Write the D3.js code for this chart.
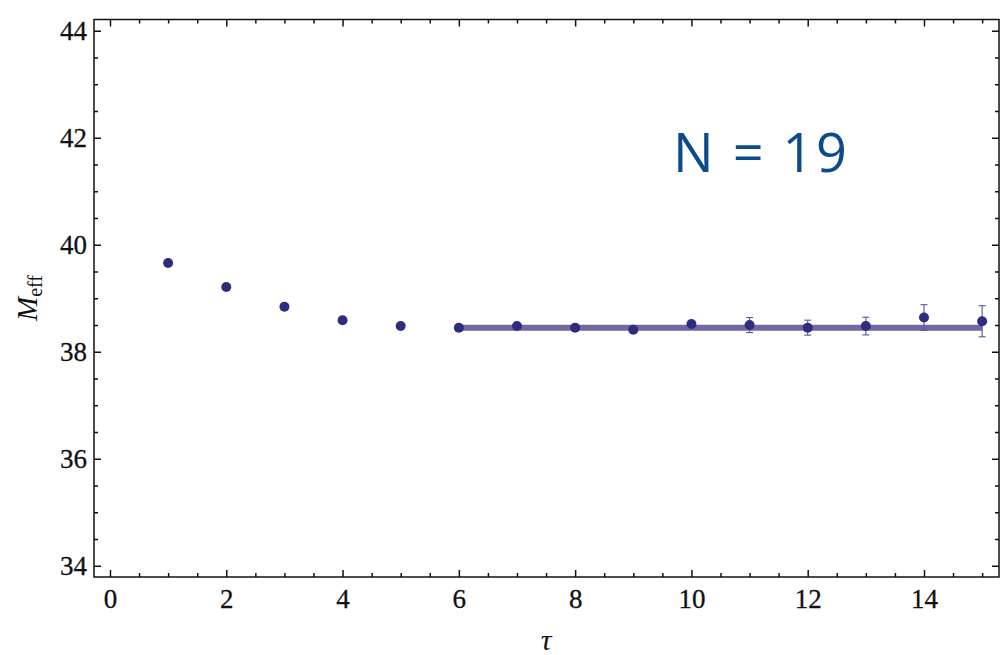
<!DOCTYPE html>
<html>
<head>
<meta charset="utf-8">
<script src="https://cdn.jsdelivr.net/npm/d3@7"></script>
<style>
  html, body { margin: 0; padding: 0; background: #fff; }
  svg { display: block; }
</style>
</head>
<body>
<svg id="chart" width="1000" height="655"></svg>
<script>
// Effective mass plateau, N = 19
const tau      = [1, 2, 3, 4, 5, 6, 7, 8, 9, 10, 11, 12, 13, 14, 15];
const mEff     = [39.66, 39.21, 38.84, 38.59, 38.48, 38.45, 38.48, 38.45, 38.41, 38.52, 38.50, 38.45, 38.48, 38.64, 38.57];
const mEffErr  = [0.02, 0.02, 0.03, 0.06, 0.03, 0.03, 0.03, 0.04, 0.06, 0.05, 0.14, 0.14, 0.165, 0.24, 0.29];
const fitRange = [6, 15];
const fitValue = [38.45];
const xTicks   = [0, 2, 4, 6, 8, 10, 12, 14];
const yTicks   = [34, 36, 38, 40, 42, 44];
const label    = ["N = 19"];

const svg = d3.select("#chart");
const plotL = 94, plotR = 999, plotT = 19.5, plotB = 577;

const x = d3.scaleLinear().domain([-0.275, 15.29]).range([plotL, plotR]);
const y = d3.scaleLinear().domain([33.79, 44.21]).range([plotB, plotT]);

const xMinor = d3.range(0, 15.3, 0.5).filter(v => !xTicks.includes(v));
const yMinor = d3.range(34, 44.01, 0.5).filter(v => !yTicks.includes(v));

const serif = "'Liberation Serif', 'DejaVu Serif', serif";

function styleAxis(g) {
  g.select(".domain").remove();
  g.selectAll(".tick line").attr("stroke", "#111").attr("stroke-width", 1.5);
  g.selectAll(".tick text").attr("font-family", serif).attr("font-size", 27)
    .attr("fill", "#111").attr("stroke", "#111").attr("stroke-width", 0.3);
}

// bottom axis: major with labels, minor without
svg.append("g").attr("transform", `translate(0,${plotB})`)
  .call(d3.axisBottom(x).tickValues(xTicks).tickSize(-7).tickPadding(12).tickFormat(d3.format("d")))
  .call(styleAxis);
svg.append("g").attr("transform", `translate(0,${plotB})`)
  .call(d3.axisBottom(x).tickValues(xMinor).tickSize(-4).tickFormat(""))
  .call(styleAxis);
// top axis mirrored ticks
svg.append("g").attr("transform", `translate(0,${plotT})`)
  .call(d3.axisTop(x).tickValues(xTicks).tickSize(-7).tickFormat(""))
  .call(styleAxis);
svg.append("g").attr("transform", `translate(0,${plotT})`)
  .call(d3.axisTop(x).tickValues(xMinor).tickSize(-4).tickFormat(""))
  .call(styleAxis);
// left axis
svg.append("g").attr("transform", `translate(${plotL},0)`)
  .call(d3.axisLeft(y).tickValues(yTicks).tickSize(-7).tickPadding(7).tickFormat(d3.format("d")))
  .call(styleAxis);
svg.append("g").attr("transform", `translate(${plotL},0)`)
  .call(d3.axisLeft(y).tickValues(yMinor).tickSize(-4).tickFormat(""))
  .call(styleAxis);
// right axis mirrored ticks
svg.append("g").attr("transform", `translate(${plotR},0)`)
  .call(d3.axisRight(y).tickValues(yTicks).tickSize(-7).tickFormat(""))
  .call(styleAxis);
svg.append("g").attr("transform", `translate(${plotR},0)`)
  .call(d3.axisRight(y).tickValues(yMinor).tickSize(-4).tickFormat(""))
  .call(styleAxis);

// frame
svg.append("rect")
  .attr("x", plotL).attr("y", plotT)
  .attr("width", plotR - plotL).attr("height", plotB - plotT)
  .attr("fill", "none").attr("stroke", "#111").attr("stroke-width", 1.5);

// plateau fit band
svg.append("line")
  .attr("x1", x(fitRange[0])).attr("x2", x(fitRange[1]))
  .attr("y1", y(fitValue[0])).attr("y2", y(fitValue[0]))
  .attr("stroke", "#6c5f9e").attr("stroke-width", 6).attr("stroke-opacity", 0.95);

const data = tau.map((t, i) => ({ t, m: mEff[i], e: mEffErr[i] }));

// error bars
const eb = svg.append("g").attr("stroke", "#5a56a0").attr("stroke-width", 1.1);
eb.selectAll("line.v").data(data).join("line").attr("class", "v")
  .attr("x1", d => x(d.t)).attr("x2", d => x(d.t))
  .attr("y1", d => y(d.m - d.e)).attr("y2", d => y(d.m + d.e));
eb.selectAll("line.lo").data(data.filter(d => d.e > 0.1)).join("line").attr("class", "lo")
  .attr("x1", d => x(d.t) - 3.5).attr("x2", d => x(d.t) + 3.5)
  .attr("y1", d => y(d.m - d.e)).attr("y2", d => y(d.m - d.e));
eb.selectAll("line.hi").data(data.filter(d => d.e > 0.1)).join("line").attr("class", "hi")
  .attr("x1", d => x(d.t) - 3.5).attr("x2", d => x(d.t) + 3.5)
  .attr("y1", d => y(d.m + d.e)).attr("y2", d => y(d.m + d.e));

// points
svg.append("g").selectAll("circle").data(data).join("circle")
  .attr("cx", d => x(d.t)).attr("cy", d => y(d.m)).attr("r", 5)
  .attr("fill", "#2e2c7c");

// axis titles
svg.append("text")
  .attr("x", 546).attr("y", 650)
  .attr("text-anchor", "middle")
  .attr("font-family", serif).attr("font-style", "italic").attr("font-size", 30)
  .attr("fill", "#111")
  .text("τ");

const yt = svg.append("text")
  .attr("transform", "translate(37,298) rotate(-90)")
  .attr("text-anchor", "middle")
  .attr("font-family", serif).attr("font-size", 29).attr("fill", "#111");
yt.append("tspan").attr("font-style", "italic").text("M");
yt.append("tspan").attr("font-size", 20).attr("dy", 5).text("eff");

// annotation
svg.append("text")
  .attr("x", 673).attr("y", 172)
  .attr("font-family", "'Open Sans', 'Noto Sans', sans-serif").attr("font-size", 54)
  .attr("letter-spacing", 2.5)
  .attr("fill", "#0b4a8b")
  .text(label[0]);
</script>
</body>
</html>
